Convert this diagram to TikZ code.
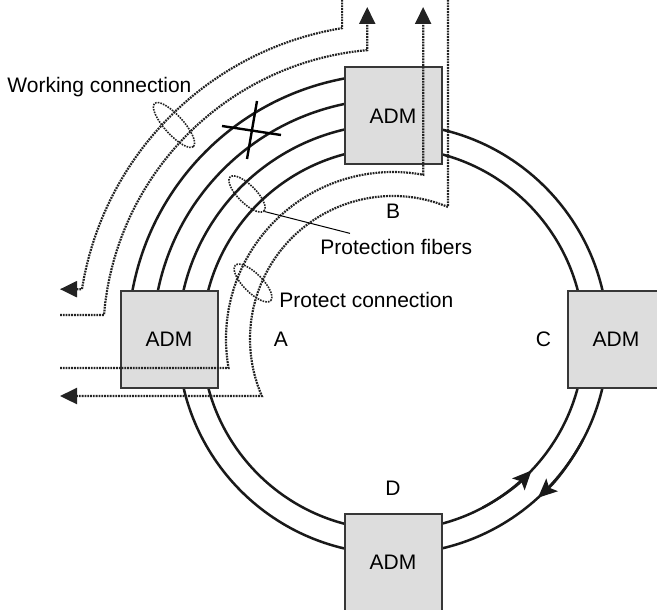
\documentclass[tikz,border=0pt]{standalone}
\usepackage{fontspec}
\setmainfont{Liberation Sans}
\usepackage{xcolor}
\definecolor{admfill}{RGB}{221,221,221}
\definecolor{admedge}{RGB}{55,55,55}
\definecolor{dotgray}{RGB}{35,35,35}
\usepackage{tikz}
\usetikzlibrary{arrows.meta,positioning,calc,shapes.geometric}

\begin{document}
\begin{tikzpicture}[
  x=0.5pt, y=0.5pt,
  admbox/.style={rectangle, draw=admedge, line width=1pt, fill=admfill,
                 minimum width=48.5pt, minimum height=48.5pt, inner sep=0pt,
                 font=\fontsize{10.5}{12.6}\selectfont},
  lbl/.style={inner sep=0pt, font=\fontsize{10.5}{12.6}\selectfont},
  fiber/.style={line width=1.25pt, color=black!90},
  conn/.style={line width=1.1pt, color=dotgray, dash pattern=on 0.9pt off 0.5pt},
  bundle/.style={ellipse, draw=dotgray, line width=0.8pt,
                 dash pattern=on 0.8pt off 0.55pt, inner sep=0pt},
  tip/.style={-{Triangle[length=8.5pt, width=8pt]}},
  ringtip/.style={-{Stealth[length=9.5pt, width=8.5pt, inset=2pt]}}
]

\useasboundingbox (0,0) rectangle (657,-609);
\clip (0,0) rectangle (657,-609);

\coordinate (ctr)      at (393,-339);
\coordinate (topedge)  at (0,3);
\coordinate (arrowtop) at (0,-7);
\coordinate (leftend)  at (60,0);

%% ring fibers
\draw[fiber] (ctr) circle[radius=191];
\draw[fiber] (ctr) circle[radius=215];
\draw[fiber] ($(ctr)+(170:240)$) arc[start angle=170, end angle=100, radius=240];
\draw[fiber] ($(ctr)+(170:265)$) arc[start angle=170, end angle=100, radius=265];

\draw[fiber, ringtip] ($(ctr)+(-62:191)$) arc[start angle=-62, end angle=-43.5, radius=191];
\draw[fiber, ringtip] ($(ctr)+(-28:215)$) arc[start angle=-28, end angle=-47.6, radius=215];

%% ADM nodes
\node[admbox] (adma) at ($(ctr)+(180:224)$)   {ADM};
\node[admbox] (admb) at ($(ctr)+(90:223)$)    {ADM};
\node[admbox] (admc) at ($(ctr)+(0:223)$)     {ADM};
\node[admbox] (admd) at ($(ctr)+(270:223.5)$) {ADM};

\node[lbl, right=27.5pt of adma] (la) {A};
\node[lbl, below=19pt of admb]   (lb) {B};
\node[lbl, left=7.5pt of admc]   (lc) {C};
\node[lbl, above=8.5pt of admd]  (ld) {D};

%% working connection
\coordinate (w1a) at ($(ctr)+(99.3:315)$);
\coordinate (w1b) at ($(ctr)+(170.9:315)$);
\draw[conn, tip] (w1a |- topedge) -- (w1a)
  arc[start angle=99.3, end angle=170.9, radius=315] -- (w1b -| leftend);

\coordinate (w2a) at ($(ctr)+(95.1:290)$);
\coordinate (w2b) at ($(ctr)+(175.25:290)$);
\draw[conn, tip] (w2b -| leftend) -- (w2b)
  arc[start angle=175.25, end angle=95.1, radius=290] -- (w2a |- arrowtop);

%% protect connection
\coordinate (p1a) at ($(ctr)+(79.6:167)$);
\coordinate (p1b) at ($(ctr)+(190:167)$);
\draw[conn, tip] (p1b -| leftend) -- (p1b)
  arc[start angle=190, end angle=79.6, radius=167] -- (p1a |- arrowtop);

\coordinate (p2a) at ($(ctr)+(67.4:143)$);
\coordinate (p2b) at ($(ctr)+(203.5:143)$);
\draw[conn, tip] (p2a |- topedge) -- (p2a)
  arc[start angle=67.4, end angle=203.5, radius=143] -- (p2b -| leftend);

%% bundles
\node[bundle, minimum width=29pt, minimum height=9.5pt, rotate=-48] (wcring) at (174,-125) {};
\node[bundle, minimum width=24pt, minimum height=9pt, rotate=-45]   (pfring) at (247,-194) {};
\node[bundle, minimum width=25pt, minimum height=9.5pt, rotate=-45] (pcring) at (253,-283) {};

%% break
\coordinate (xa1) at (222,-126);
\coordinate (xa2) at (281,-135);
\coordinate (xb1) at (257,-101);
\coordinate (xb2) at (247,-159);
\draw[line width=1.2pt] (xa1) -- (xa2) (xb1) -- (xb2);

%% labels
\node[lbl, anchor=base west] (wclabel) at (7,-93)    {Working connection};
\node[lbl, anchor=base west] (pflabel) at (320,-254) {Protection fibers};
\node[lbl, anchor=base west] (pclabel) at (279,-307) {Protect connection};

\draw[line width=0.5pt] (pfring.east) -- ([xshift=15pt, yshift=2.5pt]pflabel.north west);

\end{tikzpicture}
\end{document}
